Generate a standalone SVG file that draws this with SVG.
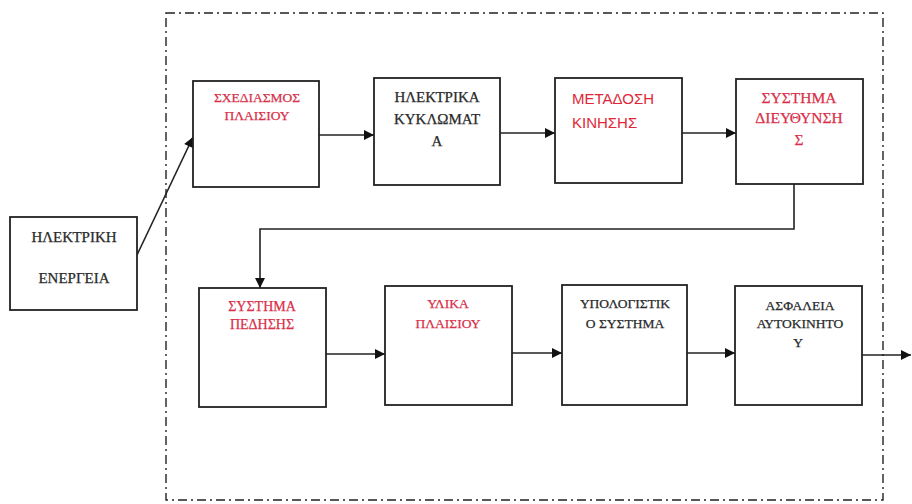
<svg xmlns="http://www.w3.org/2000/svg" width="912" height="504" viewBox="0 0 912 504">
<defs>
<marker id="ah" viewBox="0 0 10 10" refX="10" refY="5" markerWidth="11" markerHeight="10" markerUnits="userSpaceOnUse" orient="auto">
<path d="M0,0 L10,5 L0,10 Z" fill="#111"/>
</marker>
</defs>
<style>
.box{fill:#fff;stroke:#222;stroke-width:1.8}
.c{fill:none;stroke:#222;stroke-width:1.6;marker-end:url(#ah)}
.frame{fill:none;stroke:#222;stroke-width:1.4;stroke-dasharray:9 4 2 4}
.s{font-family:"Liberation Serif","Times New Roman",serif;text-anchor:middle;stroke-width:0.25}
.k{fill:#2a2a2a;stroke:#2a2a2a}
.r{fill:#d8304a;stroke:#d8304a}
.sans{font-family:"Liberation Sans",Arial,sans-serif;fill:#e02838;font-size:15px}
</style>
<rect width="912" height="504" fill="#fff"/>
<rect class="frame" x="166" y="13" width="717" height="487"/>
<g id="connectors">
<line class="c" x1="137" y1="255" x2="193" y2="137"/>
<line class="c" x1="319" y1="135" x2="374" y2="135"/>
<line class="c" x1="500" y1="133" x2="555" y2="133"/>
<line class="c" x1="682" y1="133" x2="736" y2="133"/>
<polyline class="c" points="794,184 794,229 260,229 260,288"/>
<line class="c" x1="326" y1="354" x2="385" y2="354"/>
<line class="c" x1="512" y1="353" x2="562" y2="353"/>
<line class="c" x1="687" y1="353" x2="735" y2="353"/>
<line class="c" x1="862" y1="355" x2="911" y2="355"/>
</g>
<g id="n0">
<rect class="box" x="10" y="217" width="127" height="93"/>
<text class="s k" font-size="15" x="74" y="242">ΗΛΕΚΤΡΙΚΗ</text>
<text class="s k" font-size="15" x="74" y="283">ΕΝΕΡΓΕΙΑ</text>
</g>
<g id="n1">
<rect class="box" x="193" y="81" width="126" height="106"/>
<text class="s r" font-size="13.5" x="257" y="102">ΣΧΕΔΙΑΣΜΟΣ</text>
<text class="s r" font-size="13.5" x="257" y="120">ΠΛΑΙΣΙΟΥ</text>
</g>
<g id="n2">
<rect class="box" x="374" y="78" width="126" height="107"/>
<text class="s k" font-size="15" x="437" y="102">ΗΛΕΚΤΡΙΚΑ</text>
<text class="s k" font-size="15" x="437" y="124">ΚΥΚΛΩΜΑΤ</text>
<text class="s k" font-size="15" x="437" y="146">Α</text>
</g>
<g id="n3">
<rect class="box" x="555" y="78" width="127" height="105"/>
<text class="sans" x="572" y="104">ΜΕΤΑΔΟΣΗ</text>
<text class="sans" x="572" y="128">ΚΙΝΗΣΗΣ</text>
</g>
<g id="n4">
<rect class="box" x="736" y="79" width="127" height="105"/>
<text class="s r" font-size="15.5" x="799" y="103">ΣΥΣΤΗΜΑ</text>
<text class="s r" font-size="15.5" x="799" y="123">ΔΙΕΥΘΥΝΣΗ</text>
<text class="s r" font-size="15.5" x="799" y="145">Σ</text>
</g>
<g id="n5">
<rect class="box" x="199" y="288" width="127" height="119"/>
<text class="s r" font-size="14" x="262" y="311">ΣΥΣΤΗΜΑ</text>
<text class="s r" font-size="14" x="262" y="329">ΠΕΔΗΣΗΣ</text>
</g>
<g id="n6">
<rect class="box" x="385" y="286" width="127" height="119"/>
<text class="s r" font-size="13.5" x="448" y="308">ΥΛΙΚΑ</text>
<text class="s r" font-size="13.5" x="448" y="328">ΠΛΑΙΣΙΟΥ</text>
</g>
<g id="n7">
<rect class="box" x="562" y="285" width="125" height="120"/>
<text class="s k" font-size="13.5" x="625" y="308">ΥΠΟΛΟΓΙΣΤΙΚ</text>
<text class="s k" font-size="13.5" x="625" y="328">Ο ΣΥΣΤΗΜΑ</text>
</g>
<g id="n8">
<rect class="box" x="735" y="286" width="127" height="119"/>
<text class="s k" font-size="13.5" x="800" y="310">ΑΣΦΑΛΕΙΑ</text>
<text class="s k" font-size="13.5" x="800" y="328">ΑΥΤΟΚΙΝΗΤΟ</text>
<text class="s k" font-size="13.5" x="798" y="347">Υ</text>
</g>
</svg>
